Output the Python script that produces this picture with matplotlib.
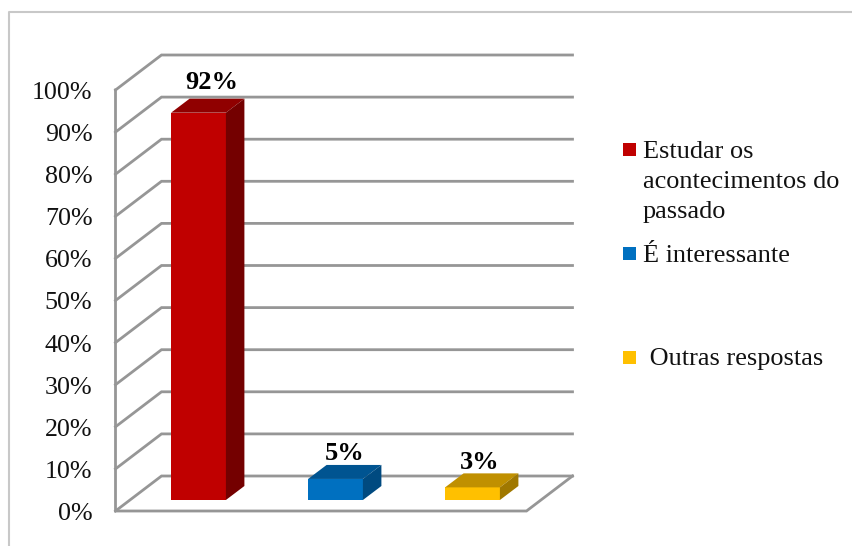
import matplotlib
matplotlib.use('Agg')
import matplotlib.pyplot as plt
from matplotlib.patches import Polygon, Rectangle

# data
categories = ['Estudar os\nacontecimentos do\npassado', 'É interessante', ' Outras respostas']
values = [92, 5, 3]
value_labels = ['92%', '5%', '3%']
ticks = [0, 10, 20, 30, 40, 50, 60, 70, 80, 90, 100]
tick_labels = ['0%', '10%', '20%', '30%', '40%', '50%', '60%', '70%', '80%', '90%', '100%']

front_colors = ['#C00000', '#0070C0', '#FFC000']
top_colors = ['#900000', '#005491', '#C09000']
side_colors = ['#740000', '#004A80', '#A07800']
legend_y = [149, 253, 357]
legend_base = [218, 262, 365]
label_off = [(-5.5, 10), (-9, 5), (-11.5, 4)]

W, H = 853, 546
GRID = '#969696'

plt.rcParams['font.family'] = ['Liberation Serif', 'DejaVu Serif']

fig = plt.figure(figsize=(W / 100, H / 100), dpi=100)

# axes = plane of the bar fronts, in pixels of the reference
left, right, top, bottom = 130, 541, 79, 500
ax = fig.add_axes([left / W, 1 - bottom / H, (right - left) / W, (bottom - top) / H])
ax.set_xlim(-0.5, 2.5)
ax.set_ylim(0, 100)
ax.axis('off')

px_x = 3 / (right - left)
px_y = 100 / (bottom - top)


def shift(x, v, dx, dy):
    # move a data point by an oblique depth offset given in pixels
    return (x + dx * px_x, v + dy * px_y)


# depth of the walls relative to the bar plane
FRONT = (-14.5, -11)
BACK = (31.5, 24)
BAR_D = (18.5, 14)

x0, x1 = -0.5, 2.5
for t in ticks:
    a = shift(x0, t, *FRONT)
    b = shift(x0, t, *BACK)
    c = shift(x1, t, *BACK)
    ax.plot([a[0], b[0], c[0]], [a[1], b[1], c[1]], color=GRID, lw=2.0, clip_on=False,
            solid_joinstyle='miter', zorder=1)

# left edge and floor
p0 = shift(x0, ticks[0], *FRONT)
p1 = shift(x0, ticks[-1], *FRONT)
p2 = shift(x1, ticks[0], *FRONT)
p3 = shift(x1, ticks[0], *BACK)
ax.plot([p1[0], p0[0], p2[0], p3[0]], [p1[1], p0[1], p2[1], p3[1]], color=GRID, lw=2.0,
        clip_on=False, solid_joinstyle='miter', zorder=1)

# tick labels
for t, lab in zip(ticks, tick_labels):
    x, y = shift(x0, t, *FRONT)
    ax.annotate(lab, (x, y), xytext=(-23, -9), textcoords='offset pixels', ha='right', va='baseline',
                fontsize=18.7, color='#111111', annotation_clip=False)

# bars
bar_w = 0.4
for i, v in enumerate(values):
    xa, xb = i - bar_w / 2, i + bar_w / 2
    ax.bar(i, v, width=bar_w, color=front_colors[i], zorder=3)
    ax.add_patch(Polygon([(xa, v), (xb, v), shift(xb, v, *BAR_D), shift(xa, v, *BAR_D)],
                         closed=True, fc=top_colors[i], ec='none', clip_on=False, zorder=3))
    ax.add_patch(Polygon([(xb, 0), (xb, v), shift(xb, v, *BAR_D), shift(xb, 0, *BAR_D)],
                         closed=True, fc=side_colors[i], ec='none', clip_on=False, zorder=3))
    x, y = shift(i, v, *BAR_D)
    ax.annotate(value_labels[i], (x, y), xytext=label_off[i], textcoords='offset pixels', ha='center',
                va='baseline', fontsize=19, fontweight='bold', color='black', annotation_clip=False,
                zorder=4)

# legend, written by hand because of its uneven spacing
for i, name in enumerate(categories):
    y = legend_y[i]
    fig.add_artist(Rectangle((623 / W, 1 - (y + 6.5) / H), 13 / W, 13 / H, transform=fig.transFigure,
                             fc=front_colors[i], ec='none'))
    fig.text(643 / W, 1 - legend_base[i] / H, name, ha='left', va='baseline', fontsize=18.9,
             color='#111111', linespacing=1.475)

# outer frame
fig.add_artist(plt.Line2D([8.5 / W, 8.5 / W, 1], [0, 1 - 12 / H, 1 - 12 / H], transform=fig.transFigure,
                          color='#C8C8C8', lw=1.5))

fig.savefig('out.png', dpi=100)
